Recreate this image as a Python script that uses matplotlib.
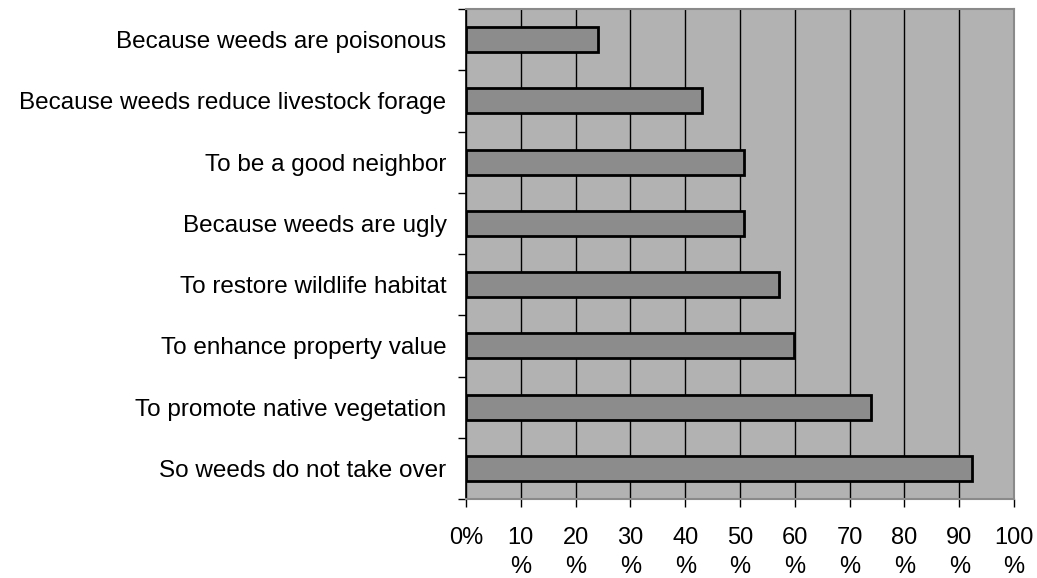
import matplotlib
matplotlib.use("Agg")
import matplotlib.pyplot as plt
import numpy as np

plt.rcParams['font.family'] = ['Liberation Sans', 'DejaVu Sans']

# reasons for controlling weeds, top to bottom
reasons = [
    "Because weeds are poisonous",
    "Because weeds reduce livestock forage",
    "To be a good neighbor",
    "Because weeds are ugly",
    "To restore wildlife habitat",
    "To enhance property value",
    "To promote native vegetation",
    "So weeds do not take over",
]
percent = [24.1, 43.1, 50.8, 50.8, 57.1, 59.8, 73.9, 92.3]

x_ticks = [0, 10, 20, 30, 40, 50, 60, 70, 80, 90, 100]
x_labels = ["0%"] + [f"{t}\n%" for t in x_ticks[1:]]

fig = plt.figure(figsize=(10.37, 5.78), dpi=100)
ax = fig.add_axes([466 / 1037, 1 - 499 / 578, (1014 - 466) / 1037, (499 - 9) / 578])

ypos = np.arange(len(reasons))
ax.barh(ypos, percent, height=0.41, color="#8c8c8c", edgecolor="black",
        linewidth=2, zorder=3)

ax.set_facecolor("#b2b2b2")
ax.set_xlim(0, 100)
ax.set_ylim(len(reasons) - 0.5, -0.5)

ax.set_xticks(x_ticks)
ax.set_xticklabels(x_labels, fontsize=17)
for lbl in ax.get_xticklabels():
    lbl.set_linespacing(1.4)
ax.tick_params(axis="x", direction="out", length=6, width=1, pad=14, color="black")

ax.set_yticks(ypos)
ax.set_yticklabels(reasons, fontsize=17.5)
ax.set_yticks(np.arange(len(reasons) + 1) - 0.5, minor=True)
ax.tick_params(axis="y", which="major", length=0, pad=14)
ax.tick_params(axis="y", which="minor", direction="out", length=6, width=1, color="black")

ax.grid(axis="x", color="black", linewidth=1, zorder=1)
ax.set_axisbelow(True)

for side in ["top", "right", "bottom"]:
    ax.spines[side].set_color("#8a8a8a")
    ax.spines[side].set_linewidth(1.5)
ax.spines["left"].set_color("black")
ax.spines["left"].set_linewidth(1.2)

fig.savefig("out.png", dpi=100, facecolor="white")
